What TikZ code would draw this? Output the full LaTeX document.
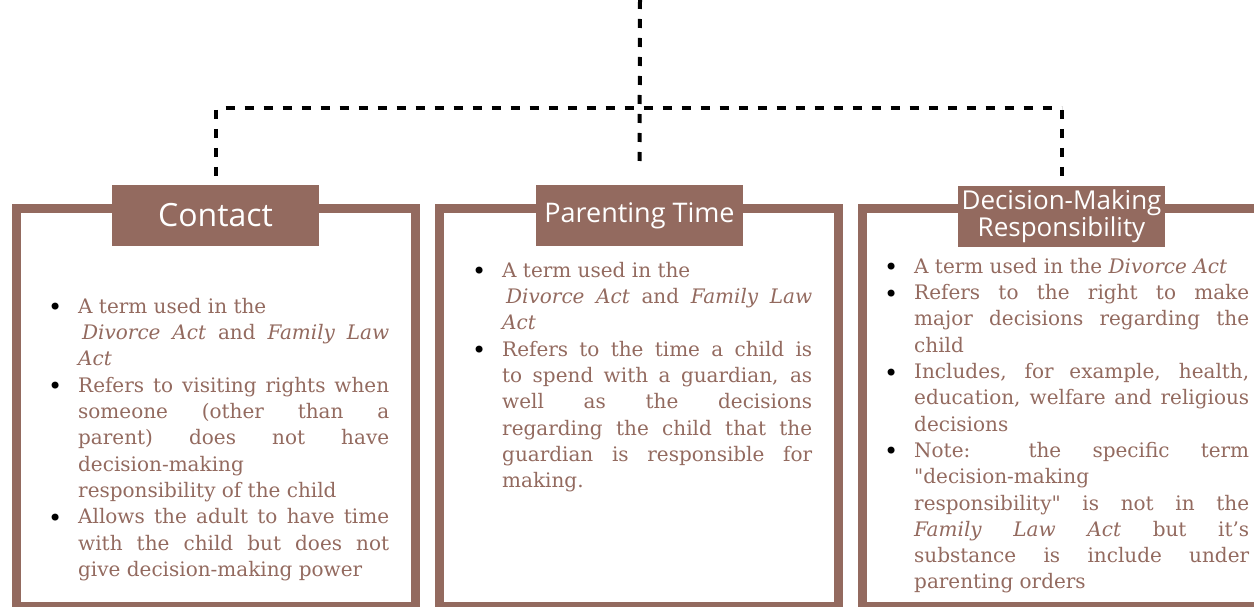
\documentclass[tikz,border=0pt]{standalone}
\usepackage{fontspec}
\setmainfont{DejaVu Serif}
\newfontfamily\titlefont{Open Sans}
\definecolor{rosewood}{HTML}{936A5F}
\tolerance=10000
\hbadness=10000
\hfuzz=20pt
\tikzset{
  termframe/.style={draw=rosewood, line width=9pt, minimum width=399pt, minimum height=398pt, inner sep=0pt},
  termtitle/.style={fill=rosewood, text=white, minimum width=207pt, minimum height=61pt, inner sep=0pt, align=center},
  termnotes/.style={anchor=north west, inner sep=0pt, text=rosewood, align=justify, font=\fontsize{20}{26.3}\selectfont},
  link/.style={line width=4pt, dash pattern=on 9pt off 10pt}
}
\newcommand{\termbox}[2] {\node at (#1) (#2) [termframe] {};}
\newcommand{\termhead}[4] {\node at (#1) (#2) [termtitle, font=\titlefont\fontsize{#3}{27}\selectfont] {#4};}
\newcommand{\termtext}[4] {\node at (#1) (#2) [termnotes, text width=#3] {#4};}
\newcommand{\termitem}[1] {\hangindent=27pt \hangafter=1 \noindent\makebox[27pt][l]{\hspace*{-3pt}\raisebox{-2.5pt}{\color{black}\fontsize{24}{0}\selectfont\textbullet}}\strut#1\par}

\begin{document}
\begin{tikzpicture}[x=1pt, y=-1pt]
\useasboundingbox (0,0) rectangle (1254,607);

\termbox {216,407.5}{contactBox}
\termbox {639,407.5}{timeBox}
\termbox {1062,407.5}{decisionBox}

\termhead {215.5,215.5}{contactTitle}{32}{Contact}
\termhead {639.5,215.5}{timeTitle}{27}{Parenting Time}
\termhead {1061.5,216.5}{decisionTitle}{26}{Decision-Making\\Responsibility}

\coordinate (root) at (640,0);
\coordinate (hub) at (640,108);
\draw [link, shorten >=17pt] (root) -- (timeTitle.north);
\draw [link, dash phase=9pt] (contactTitle.north |- hub) -- (decisionTitle.north |- hub);
\draw [link, shorten <=2pt, shorten >=8pt] (contactTitle.north |- hub) -- (contactTitle.north);
\draw [link, shorten <=2pt, shorten >=8pt] (decisionTitle.north |- hub) -- (decisionTitle.north);

\termtext {51,294.7}{contactNotes}{338pt}{%
\termitem{A term used in the\newline
\hspace*{4pt}\textit{Divorce Act} and \textit{Family Law}\linebreak
\textit{Act}}
\termitem{Refers to visiting rights when\linebreak
someone (other than a\linebreak
parent) does not have\linebreak
decision-making\newline
responsibility of the child}
\termitem{Allows the adult to have time\linebreak
with the child but does not\linebreak
give decision-making power}}

\termtext {475,258.7}{timeNotes}{337pt}{%
\termitem{A term used in the\newline
\hspace*{4pt}\textit{Divorce Act} and \textit{Family Law}\linebreak
\textit{Act}}
\termitem{Refers to the time a child is\linebreak
to spend with a guardian, as\linebreak
well as the decisions\linebreak
regarding the child that the\linebreak
guardian is responsible for\linebreak
making.}}

\termtext {887,254.7}{decisionNotes}{362pt}{%
\termitem{A term used in the \textit{Divorce Act}}
\termitem{Refers to the right to make\linebreak
major decisions regarding the\linebreak
child}
\termitem{Includes, for example, health,\linebreak
education, welfare and religious\linebreak
decisions}
\termitem{Note: the specific term\linebreak
\textquotedbl decision-making\newline
responsibility\textquotedbl{} is not in the\linebreak
\textit{Family Law Act} but it’s\linebreak
substance is include under\linebreak
parenting orders}}

\end{tikzpicture}
\end{document}
